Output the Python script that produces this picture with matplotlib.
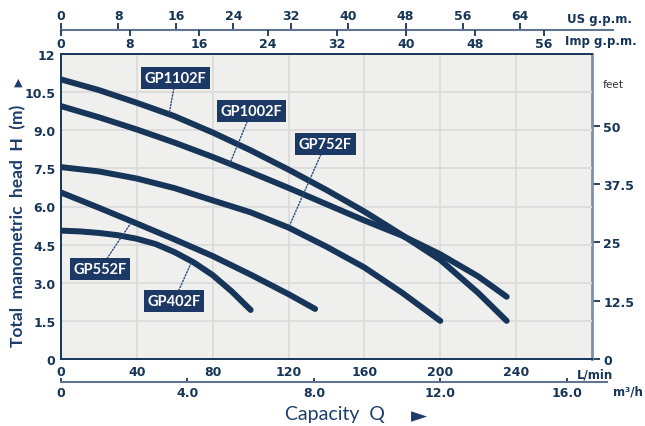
import numpy as np
import matplotlib.pyplot as plt

# Performance curves: capacity Q (L/min) vs total head H (m)
q_1102 = [0, 20, 40, 60, 80, 100, 120, 140, 160, 180, 200, 220, 235]
h_1102 = [11.0, 10.58, 10.08, 9.55, 8.91, 8.21, 7.45, 6.65, 5.8, 4.87, 3.9, 2.6, 1.5]
q_1002 = [0, 20, 40, 60, 80, 100, 120, 140, 160, 180, 200, 220, 235]
h_1002 = [9.95, 9.51, 9.03, 8.51, 7.95, 7.35, 6.73, 6.09, 5.45, 4.85, 4.12, 3.25, 2.45]
q_752 = [0, 20, 40, 60, 80, 100, 120, 140, 160, 180, 200]
h_752 = [7.55, 7.38, 7.1, 6.72, 6.24, 5.77, 5.17, 4.42, 3.6, 2.6, 1.5]
q_552 = [0, 20, 40, 60, 80, 100, 120, 134]
h_552 = [6.55, 5.95, 5.33, 4.7, 4.05, 3.32, 2.55, 1.97]
q_402 = [0, 10, 20, 30, 40, 50, 60, 70, 80, 90, 100]
h_402 = [5.05, 5.02, 4.96, 4.87, 4.73, 4.52, 4.2, 3.8, 3.3, 2.66, 1.93]

models = ["GP1102F", "GP1002F", "GP752F", "GP552F", "GP402F"]
curves = [(q_1102, h_1102), (q_1002, h_1002), (q_752, h_752),
          (q_552, h_552), (q_402, h_402)]

# scales
lmin_ticks = [0, 40, 80, 120, 160, 200, 240]
head_ticks = [0, 1.5, 3.0, 4.5, 6.0, 7.5, 9.0, 10.5, 12]
head_labels = ["0", "1.5", "3.0", "4.5", "6.0", "7.5", "9.0", "10.5", "12"]
feet_ticks = [0, 12.5, 25, 37.5, 50]
feet_labels = ["0", "12.5", "25", "37.5", "50"]
us_gpm = [0, 8, 16, 24, 32, 40, 48, 56, 64]
imp_gpm = [0, 8, 16, 24, 32, 40, 48, 56]
m3h = [0, 4.0, 8.0, 12.0, 16.0]
m3h_labels = ["0", "4.0", "8.0", "12.0", "16.0"]

L_PER_US = 3.785
L_PER_IMP = 4.546
FT_SCALE = 5.45  # spacing of the feet scale
Q_MAX, H_MAX = 280, 12

# label boxes (box centre) and where each leader meets its curve
label_xy = [(60.5, 11.06), (100.5, 9.76), (139.5, 8.46), (20.5, 3.54), (59.5, 2.28)]
tip_q = [57, 89, 120, 37.4, 69]

NAVY = "#163558"
BOX = "#1c3966"
BG = "#efefed"
GRID = "#dcdcdc"
SLATE = "#5f7590"
TXT = "#1e3d6b"
TICK = dict(family="DejaVu Sans", weight="bold", fontsize=9, color=NAVY)

W, H = 645, 427
fig = plt.figure(figsize=(W / 100, H / 100), dpi=100)
ax = fig.add_axes([61 / W, 1 - 360 / H, 531 / W, 305 / H])
ax.set_facecolor(BG)
ax.set_xlim(0, Q_MAX)
ax.set_ylim(0, H_MAX)
ax.set_axisbelow(True)
ax.grid(color=GRID, lw=1.3)

for (q, h) in curves:
    ax.plot(q, h, color=NAVY, lw=4.3, solid_capstyle="round", solid_joinstyle="round")

for name, (lx, ly), tq, (q, h) in zip(models, label_xy, tip_q, curves):
    ty = np.interp(tq, q, h)
    ax.annotate(name, xy=(tq, ty), xytext=(lx, ly), ha="center", va="center",
                family="Lato", weight="bold", fontsize=10.5, color="white",
                bbox=dict(boxstyle="square,pad=0.25", fc=BOX, ec="none"),
                arrowprops=dict(arrowstyle="-", color="#2d4c7a", lw=1,
                                linestyle=(0, (1, 1.3)), shrinkA=0, shrinkB=0))

ax.set_xticks(lmin_ticks, labels=[str(v) for v in lmin_ticks], **TICK)
ax.set_yticks(head_ticks, labels=head_labels, **TICK)
ax.tick_params(length=0, pad=4)
for side in ("left", "top", "bottom"):
    ax.spines[side].set_color(NAVY)
    ax.spines[side].set_linewidth(1.4)
ax.spines["right"].set_visible(False)

# feet scale on the right
sec = ax.secondary_yaxis("right", functions=(lambda m: m * FT_SCALE, lambda f: f / FT_SCALE))
sec.set_yticks(feet_ticks, labels=feet_labels, **TICK)
sec.tick_params(length=6, width=1.3, color=NAVY, pad=2)
sec.spines["right"].set_color("#7f91a8")
sec.spines["right"].set_linewidth(2)


def strip(y_px, right_px):
    s = fig.add_axes([61 / W, 1 - y_px / H, (right_px - 61) / W, 1e-4])
    s.set_xlim(0, Q_MAX * (right_px - 61) / 531)
    s.set_facecolor("none")
    s.yaxis.set_visible(False)
    for side in s.spines:
        s.spines[side].set_visible(False)
    return s


# flow scales on top
us = strip(31, 613)
us.xaxis.set_ticks_position("top")
us.set_xticks(np.array(us_gpm) * L_PER_US, labels=[str(v) for v in us_gpm], **TICK)
us.tick_params(direction="out", length=5, width=1.3, color=NAVY, pad=1)
us.spines["top"].set_visible(True)
us.spines["top"].set_color(SLATE)
us.spines["top"].set_linewidth(1.5)

imp = strip(31, 613)
imp.set_xticks(np.array(imp_gpm) * L_PER_IMP, labels=[str(v) for v in imp_gpm], **TICK)
imp.tick_params(direction="out", length=4, width=1.3, color=NAVY, pad=1)

# m3/h scale below
m3 = strip(383, 607)
m3.set_xticks(np.array(m3h) * 1000 / 60, labels=m3h_labels, **TICK)
m3.tick_params(direction="in", length=3, width=1.3, color=NAVY, pad=3)
m3.spines["bottom"].set_visible(True)
m3.spines["bottom"].set_color(SLATE)
m3.spines["bottom"].set_linewidth(1.5)

# unit captions
unit = dict(family="DejaVu Sans", weight="bold", fontsize=8.5, color=NAVY, va="center")
fig.text(567 / W, 1 - 20 / H, "US g.p.m.", **unit)
fig.text(565 / W, 1 - 42 / H, "Imp g.p.m.", **unit)
fig.text(577 / W, 1 - 375 / H, "L/min", **unit)
fig.text(613 / W, 1 - 392 / H, "m³/h", **unit)
fig.text(603 / W, 1 - 85 / H, "feet", family="Lato", fontsize=8.5, color="#333333", va="center")

fig.text(285 / W, 1 - 415 / H, "Capacity  Q", family="Lato", fontsize=14,
         color=TXT, va="center")
fig.text(419 / W, 1 - 416 / H, "►", family=["DejaVu Sans"], fontsize=15,
         color=TXT, va="center", ha="center")
fig.text(18 / W, 1 - 226 / H, "Total  manometric  head  H  (m)", family="Lato",
         weight="bold", fontsize=12.5, color=TXT, rotation=90,
         ha="center", va="center")
fig.text(18 / W, 1 - 83 / H, "▲", family=["DejaVu Sans"], fontsize=8,
         color=TXT, ha="center", va="center")

fig.savefig("out.png", dpi=100)
